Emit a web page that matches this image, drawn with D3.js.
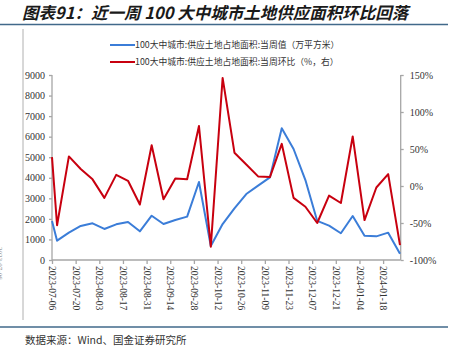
<!DOCTYPE html>
<html>
<head>
<meta charset="utf-8">
<script src="https://cdn.jsdelivr.net/npm/d3@7"></script>
<style>
    body { margin: 0; background: #fff; }
    .text { font-family: "Liberation Serif", "Noto Sans CJK SC", serif; fill: #333; }
    .cjk { font-family: "Noto Sans CJK SC", sans-serif; }
    .axis path, .axis line { stroke: #a6a6a6; stroke-width: 1.3; }
    .axis text { font-family: "Liberation Serif", serif; font-size: 10px; fill: #333; }
</style>
</head>
<body>
<div id="chart"></div>
<script>
// weekly dates (first point is the period start)
const dates = [
    "2023-07-06", "2023-07-09", "2023-07-16", "2023-07-23", "2023-07-30",
    "2023-08-06", "2023-08-13", "2023-08-20", "2023-08-27", "2023-09-03",
    "2023-09-10", "2023-09-17", "2023-09-24", "2023-10-01", "2023-10-08",
    "2023-10-15", "2023-10-22", "2023-10-29", "2023-11-05", "2023-11-12",
    "2023-11-19", "2023-11-26", "2023-12-03", "2023-12-10", "2023-12-17",
    "2023-12-24", "2023-12-31", "2024-01-07", "2024-01-14", "2024-01-21",
    "2024-01-28"
];

// 当周值 (万平方米)
const weeklyArea = [1900, 940, 1330, 1655, 1785, 1510, 1735, 1850, 1395, 2155,
    1750, 1945, 2110, 3795, 680, 1750, 2515, 3210, 3615, 4020,
    6405, 5400, 3890, 1900, 1670, 1300, 2140, 1185, 1150, 1330, 300];

// 当周环比 (%)
const weeklyChange = [39, -53, 40, 23, 9, -16, 15, 7, -25, 55,
    -18, 10, 9, 81, -82, 146, 45, 29, 13, 12,
    57, -16, -28, -50, -13, -23, 67, -46, -2, 16, -80];

const xTickLabels = ["2023-07-06", "2023-07-20", "2023-08-03", "2023-08-17", "2023-08-31",
    "2023-09-14", "2023-09-28", "2023-10-12", "2023-10-26", "2023-11-09",
    "2023-11-23", "2023-12-07", "2023-12-21", "2024-01-04", "2024-01-18"];
const leftTicks = [0, 1000, 2000, 3000, 4000, 5000, 6000, 7000, 8000, 9000];
const rightTicks = [-100, -50, 0, 50, 100, 150];

const titleText = "图表91：近一周 100 大中城市土地供应面积环比回落";
const legendLabels = ["100大中城市:供应土地占地面积:当周值（万平方米）",
    "100大中城市:供应土地占地面积:当周环比（%，右）"];
const sourceText = "数据来源：Wind、国金证券研究所";

const parseDate = d3.timeParse("%Y-%m-%d");
const data = dates.map((d, i) => ({ date: parseDate(d), area: weeklyArea[i], change: weeklyChange[i] }));

const dimensions = {
    width: 451,
    height: 364,
    plot: { left: 52, right: 400, top: 75, bottom: 260 }
};

const svg = d3.select("#chart")
    .append("svg")
    .attr("width", dimensions.width)
    .attr("height", dimensions.height);

// Scales
const xScale = d3.scaleTime()
    .domain([parseDate("2023-07-06"), parseDate("2024-01-28")])
    .range([dimensions.plot.left, dimensions.plot.right]);
const yLeft = d3.scaleLinear()
    .domain([0, 9000])
    .range([dimensions.plot.bottom, dimensions.plot.top]);
const yRight = d3.scaleLinear()
    .domain([-100, 150])
    .range([dimensions.plot.bottom, dimensions.plot.top]);

// Title and frame lines
svg.append("text")
    .attr("x", 22)
    .attr("y", 19)
    .attr("class", "cjk")
    .style("font-size", "16.5px")
    .style("font-weight", "bold")
    .style("font-style", "italic")
    .style("fill", "#1a1a1a")
    .text(titleText);

svg.append("line")
    .attr("x1", 0).attr("x2", 448)
    .attr("y1", 24.5).attr("y2", 24.5)
    .attr("stroke", "#41698a")
    .attr("stroke-width", 1.6);

svg.append("line")
    .attr("x1", 0).attr("x2", 448)
    .attr("y1", 327).attr("y2", 327)
    .attr("stroke", "#41698a")
    .attr("stroke-width", 1.6);

svg.append("line")
    .attr("x1", 23).attr("x2", 23)
    .attr("y1", 29).attr("y2", 320)
    .attr("stroke", "#b0b0b0")
    .attr("stroke-width", 1);

// label fragment left at the page edge
svg.append("text")
    .attr("transform", "translate(-2, 247) rotate(90)")
    .attr("class", "text")
    .style("font-size", "7px")
    .style("fill", "#888")
    .text("2023-07-06");

// Axes
const xAxisGen = d3.axisBottom(xScale)
    .tickValues(xTickLabels.map(parseDate))
    .tickSize(4)
    .tickFormat(d3.timeFormat("%Y-%m-%d"));
const xAxis = svg.append("g")
    .attr("class", "axis")
    .attr("transform", `translate(0, ${dimensions.plot.bottom})`)
    .call(xAxisGen);
xAxis.select(".domain").attr("d", `M${dimensions.plot.left},0H${dimensions.plot.right + 0.7}`);
xAxis.selectAll("text")
    .style("font-size", "9.5px")
    .attr("text-anchor", "start")
    .attr("transform", "rotate(90)")
    .attr("x", 6)
    .attr("y", 0)
    .attr("dy", "0.35em");

const yLeftGen = d3.axisLeft(yLeft).tickValues(leftTicks).tickSize(3).tickPadding(4)
    .tickFormat(d3.format("d"));
const yLeftAxis = svg.append("g")
    .attr("class", "axis")
    .attr("transform", `translate(${dimensions.plot.left}, 0)`)
    .call(yLeftGen);
yLeftAxis.select(".domain").attr("d", `M0,${dimensions.plot.top}V${dimensions.plot.bottom}`);

const yRightGen = d3.axisRight(yRight).tickValues(rightTicks).tickSize(3).tickPadding(6)
    .tickFormat(d => d + "%");
const yRightAxis = svg.append("g")
    .attr("class", "axis")
    .attr("transform", `translate(${dimensions.plot.right + 0.7}, 0)`)
    .call(yRightGen);
yRightAxis.select(".domain").attr("d", `M0,${dimensions.plot.top}V${dimensions.plot.bottom}`);

// Lines
const areaLine = d3.line()
    .x(d => xScale(d.date))
    .y(d => yLeft(d.area));
const changeLine = d3.line()
    .x(d => xScale(d.date))
    .y(d => yRight(d.change));

svg.append("path")
    .datum(data)
    .attr("d", areaLine)
    .attr("fill", "none")
    .attr("stroke", "#3b7dd8")
    .attr("stroke-width", 2)
    .attr("stroke-linejoin", "round");

svg.append("path")
    .datum(data)
    .attr("d", changeLine)
    .attr("fill", "none")
    .attr("stroke", "#c8000f")
    .attr("stroke-width", 2)
    .attr("stroke-linejoin", "round");

// Legend
const legendColors = ["#3b7dd8", "#c8000f"];
const legend = svg.append("g").attr("transform", "translate(110, 45)");
legendLabels.forEach((label, i) => {
    legend.append("line")
        .attr("x1", 0).attr("x2", 25)
        .attr("y1", i * 17).attr("y2", i * 17)
        .attr("stroke", legendColors[i])
        .attr("stroke-width", 2);
    legend.append("text")
        .attr("x", 25)
        .attr("y", i * 17 + 3.3)
        .attr("class", "cjk")
        .style("font-size", "8.8px")
        .style("fill", "#333")
        .text(label);
});

// Source
svg.append("text")
    .attr("x", 25)
    .attr("y", 344)
    .attr("class", "cjk")
    .style("font-size", "10.5px")
    .style("fill", "#333")
    .text(sourceText);
</script>
</body>
</html>
